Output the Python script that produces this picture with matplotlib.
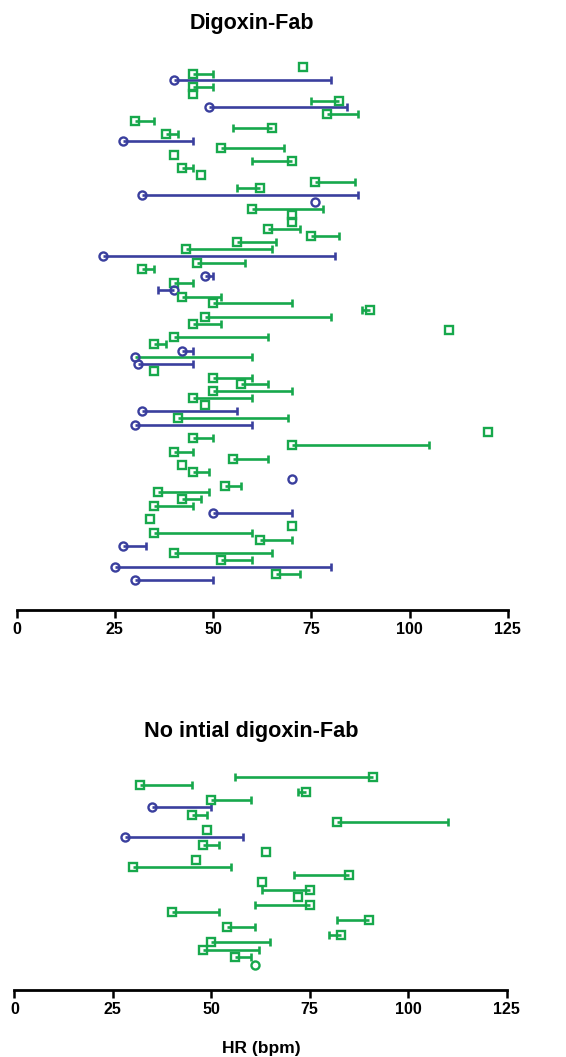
import matplotlib
matplotlib.use("Agg")
import matplotlib.pyplot as plt

plt.rcParams['font.family'] = ['Liberation Sans', 'DejaVu Sans']

BLUE = "#3a3f9e"
GREEN = "#17a84c"

# top panel: value at the marker, value at the capped end
top_start = [73, 45, 40, 45, 45, 82, 49, 79, 30, 65,
             38, 27, 52, 40, 70, 42, 47, 76, 62, 32,
             76, 60, 70, 70, 64, 75, 56, 43, 22, 46,
             32, 48, 40, 40, 42, 50, 90, 48, 45, 110,
             40, 35, 42, 30, 31, 35, 50, 57, 50, 45,
             48, 32, 41, 30, 120, 45, 70, 40, 55, 42,
             45, 70, 53, 36, 42, 35, 50, 34, 70, 35,
             62, 27, 40, 52, 25, 66, 30]
top_end = [73, 50, 80, 50, 45, 75, 84, 87, 35, 55,
           41, 45, 68, 40, 60, 45, 47, 86, 56, 87,
           76, 78, 70, 70, 72, 82, 66, 65, 81, 58,
           35, 50, 45, 36, 52, 70, 88, 80, 52, 110,
           64, 38, 45, 60, 45, 35, 60, 64, 70, 60,
           48, 56, 69, 60, 120, 50, 105, 45, 64, 42,
           49, 70, 57, 49, 47, 45, 70, 34, 70, 60,
           70, 33, 65, 60, 80, 72, 50]
# o = blue circle, s = green square (rows in groups of ten)
top_shape = "".join([
    "ssosssosss", "sossssssso", "osssssssos", "sosossssss",
    "ssooosssss", "sosossssss", "sossssosss", "sossoso"])
top_mcol = "".join("b" if c == "o" else "g" for c in top_shape)
# row 44 has a blue circle but a green line
top_lcol = top_mcol[:43] + "g" + top_mcol[44:]

# bottom panel
bot_start = [91, 32, 74, 50, 35, 45, 82, 49, 28, 48,
             64, 46, 30, 85, 63, 75, 72, 75, 40, 90,
             54, 83, 50, 48, 56, 61]
bot_end = [56, 45, 72, 60, 50, 49, 110, 49, 58, 52,
           64, 46, 55, 71, 63, 63, 72, 61, 52, 82,
           61, 80, 65, 62, 60, 61]
bot_shape = "ssssossso" + "s" * 16 + "o"
bot_mcol = "ggggbgggb" + "g" * 17
bot_lcol = bot_mcol

ticks = [0, 25, 50, 75, 100, 125]
COLS = {"b": BLUE, "g": GREEN}


def draw(ax, start, end, shape, mcol, lcol, pad):
    for i, (s, e) in enumerate(zip(start, end)):
        y = i + 1
        if s != e:
            ax.plot([s, e], [y, y], color=COLS[lcol[i]], lw=1.9,
                    solid_capstyle="butt", zorder=2)
            ax.plot([e], [y], marker="|", ms=5.5, mew=1.9,
                    color=COLS[lcol[i]], zorder=2)
        ax.plot([s], [y], marker=shape[i], ms=5.2 if shape[i] == "s" else 5.8,
                mew=1.7, mfc="none", mec=COLS[mcol[i]], zorder=3)
    ax.set_ylim(len(start) + pad, 0)
    ax.set_xlim(0, 125)
    ax.set_xticks(ticks)
    ax.set_xticklabels([str(t) for t in ticks], fontsize=11.5, fontweight="bold")
    ax.set_yticks([])
    for side in ["top", "right", "left"]:
        ax.spines[side].set_visible(False)
    ax.spines["bottom"].set_linewidth(2.0)
    ax.tick_params(axis="x", length=6, width=1.8, pad=3)


fig = plt.figure(figsize=(5.66, 10.57), dpi=100)
ax1 = fig.add_axes([0.0295, 0.4229, 0.8675, 0.5203])
draw(ax1, top_start, top_end, top_shape, top_mcol, top_lcol, 4.4)
ax2 = fig.add_axes([0.0253, 0.0634, 0.8700, 0.2083])
draw(ax2, bot_start, bot_end, bot_shape, bot_mcol, bot_lcol, 3.33)

fig.text(252 / 566, 1 - 23 / 1057, "Digoxin-Fab", ha="center", va="center",
         fontsize=15.5, fontweight="bold")
fig.text(251 / 566, 1 - 732 / 1057, "No intial digoxin-Fab", ha="center",
         va="center", fontsize=15.6, fontweight="bold")
fig.text(261 / 566, 1 - 1048 / 1057, "HR (bpm)", ha="center", va="center",
         fontsize=12.5, fontweight="bold")

fig.savefig("out.png", dpi=100)
